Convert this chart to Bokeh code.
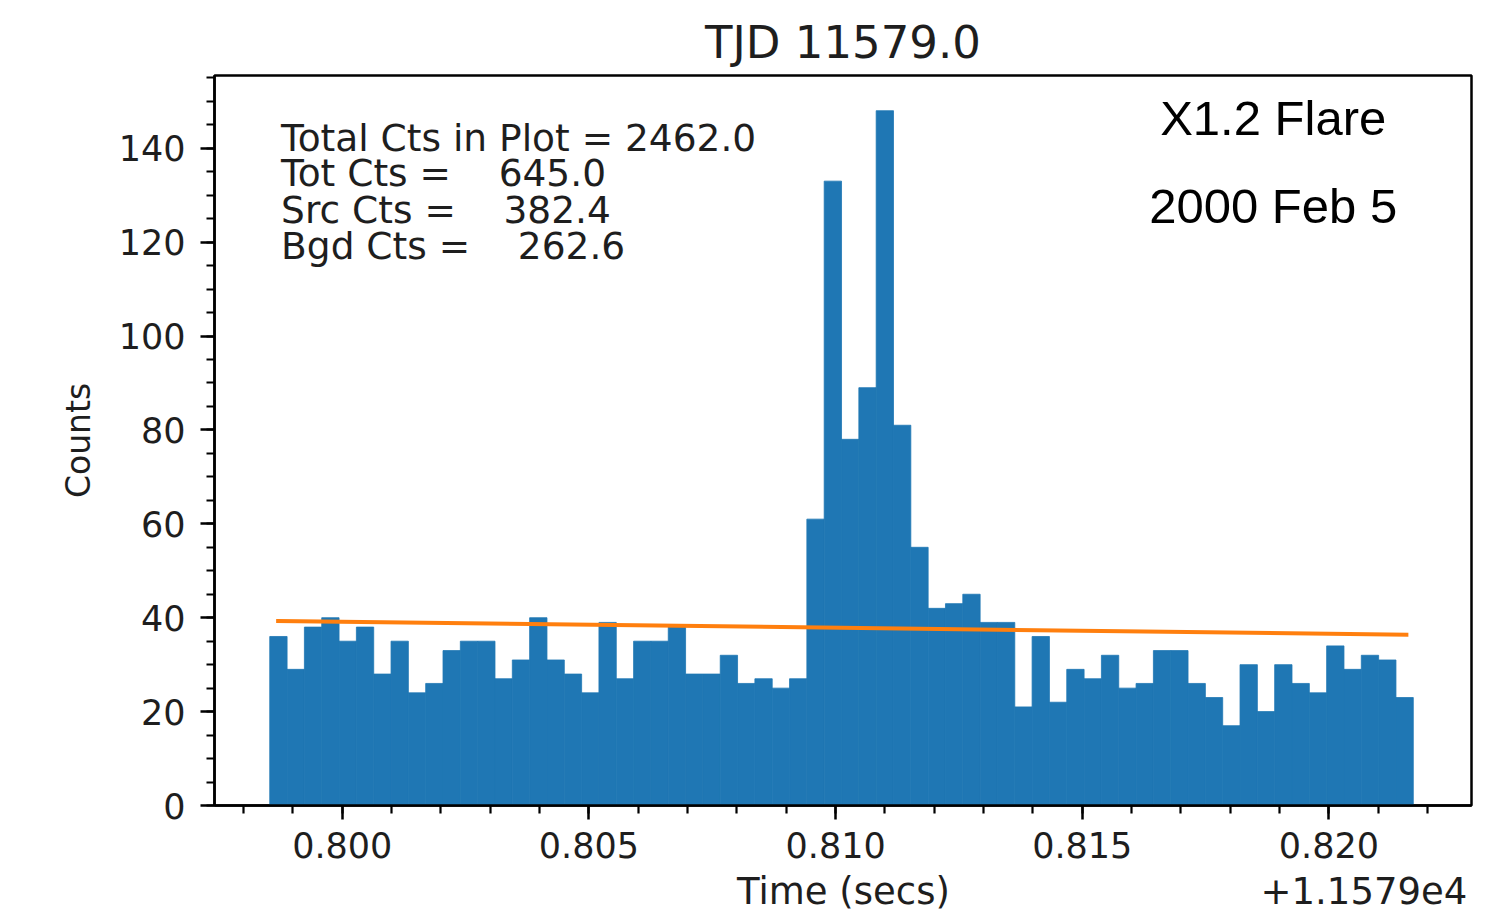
import numpy as np
from bokeh.plotting import figure
from bokeh.models import (ColumnDataSource, FixedTicker, CustomJSTickFormatter,
                          Label, Range1d, LinearAxis)
from bokeh.embed import file_html
from bokeh.resources import INLINE

# ---------------- data ----------------
bin_first_edge = 11579.79853
bin_last_edge = 11579.82171
counts = [36, 29, 38, 40, 35, 38, 28, 35, 24, 26, 33, 35, 35, 27, 31, 40,
          31, 28, 24, 39, 27, 35, 35, 38, 28, 28, 32, 26, 27, 25, 27,
          61, 133, 78, 89, 148, 81, 55, 42, 43, 45, 39, 39,
          21, 36, 22, 29, 27, 32, 25, 26, 33, 33, 26, 23, 17, 30, 20, 30,
          26, 24, 34, 29, 32, 31, 23]

bgd_x = [11579.79870, 11579.82157]
bgd_y = [39.3, 36.4]

x_major = [11579.800, 11579.805, 11579.810, 11579.815, 11579.820]
x_minor = [11579.798, 11579.799, 11579.800, 11579.801, 11579.802, 11579.803,
           11579.804, 11579.805, 11579.806, 11579.807, 11579.808, 11579.809,
           11579.810, 11579.811, 11579.812, 11579.813, 11579.814, 11579.815,
           11579.816, 11579.817, 11579.818, 11579.819, 11579.820, 11579.821,
           11579.822]
y_major = [0, 20, 40, 60, 80, 100, 120, 140]
y_minor = list(range(0, 156, 5))

title_text = "TJD 11579.0"
stats_lines = ["Total Cts in Plot = 2462.0",
               "Tot Cts =\u00a0\u00a0\u00a0\u00a0645.0",
               "Src Cts =\u00a0\u00a0\u00a0\u00a0382.4",
               "Bgd Cts =\u00a0\u00a0\u00a0\u00a0262.6"]
event_lines = ["X1.2 Flare", "2000 Feb 5"]
bottom_texts = ["Time (secs)", "+1.1579e4"]

# ---------------- layout constants ----------------
bottom_text_x = [11579.81016, 11579.82071]
stat_x, stat_y = 11579.79876, [142.2, 134.7, 126.8, 119.1]
ev_x, ev_y = 11579.81887, [146.5, 127.6]

# ---------------- build ----------------
edges = np.linspace(bin_first_edge, bin_last_edge, len(counts) + 1)
src = ColumnDataSource(dict(left=edges[:-1], right=edges[1:],
                            top=counts, bottom=[0] * len(counts)))

BLUE = "#1f77b4"
ORANGE = "#ff7f0e"
TXT = "#1e1e1e"
MPL_FONT = "DejaVu Sans"

p = figure(width=1492, height=915, output_backend="svg", toolbar_location=None,
           x_range=Range1d(11579.79741, 11579.82289), y_range=Range1d(0, 155.5),
           min_border_left=214, min_border_right=21, min_border_top=75,
           min_border_bottom=110)

p.quad(left="left", right="right", top="top", bottom="bottom", source=src,
       fill_color=BLUE, line_color=BLUE, line_width=0.8)
p.line(bgd_x, bgd_y, line_color=ORANGE, line_width=4, line_cap="square")

p.xgrid.visible = False
p.ygrid.visible = False
p.background_fill_color = "white"
p.border_fill_color = "white"
p.outline_line_color = "black"
p.outline_line_width = 2.5
p.outline_line_alpha = 1.0

p.xaxis.ticker = FixedTicker(ticks=x_major, minor_ticks=x_minor)
p.xaxis.formatter = CustomJSTickFormatter(
    code="return (tick - 11579).toFixed(3);")
p.yaxis.ticker = FixedTicker(ticks=y_major, minor_ticks=y_minor)

for ax in (p.xaxis[0], p.yaxis[0]):
    ax.axis_line_color = "black"
    ax.axis_line_width = 2.5
    ax.major_tick_line_color = "black"
    ax.major_tick_line_width = 2.5
    ax.minor_tick_line_color = "black"
    ax.minor_tick_line_width = 2.2
    ax.major_tick_in = 0
    ax.major_tick_out = 14
    ax.minor_tick_in = 0
    ax.minor_tick_out = 8
    ax.major_label_text_font = MPL_FONT
    ax.major_label_text_font_size = "35px"
    ax.major_label_text_color = TXT
    ax.axis_label_text_font = MPL_FONT
    ax.axis_label_text_font_size = "33px"
    ax.axis_label_text_font_style = "normal"
    ax.axis_label_text_color = TXT

p.yaxis.axis_label = "Counts"
p.xaxis.major_label_standoff = 12
p.yaxis.major_label_standoff = 15
p.yaxis.axis_label_standoff = 18

# second row below the x axis: axis label and offset text on one line
lab_ax = LinearAxis(
    ticker=FixedTicker(ticks=bottom_text_x, minor_ticks=[]),
    formatter=CustomJSTickFormatter(args=dict(labels=bottom_texts),
                                    code="return labels[index];"))
lab_ax.axis_line_color = None
lab_ax.major_tick_line_color = None
lab_ax.minor_tick_line_color = None
lab_ax.major_tick_in = 0
lab_ax.major_tick_out = 0
lab_ax.minor_tick_in = 0
lab_ax.minor_tick_out = 0
lab_ax.major_label_standoff = 9
lab_ax.major_label_text_font = MPL_FONT
lab_ax.major_label_text_font_size = "37px"
lab_ax.major_label_text_color = TXT
p.add_layout(lab_ax, "below")

p.title.text = title_text
p.title.align = "center"
p.title.text_font = MPL_FONT
p.title.text_font_size = "45px"
p.title.text_font_style = "normal"
p.title.text_color = TXT
p.title.standoff = 14

# stats block (upper left)
for txt, yy in zip(stats_lines, stat_y):
    p.add_layout(Label(x=stat_x, y=yy, text=txt, text_font=MPL_FONT,
                       text_font_size="37.5px", text_color=TXT,
                       text_baseline="alphabetic", text_align="left"))

# event annotation (upper right)
for txt, yy in zip(event_lines, ev_y):
    p.add_layout(Label(x=ev_x, y=yy, text=txt,
                       text_font="Liberation Sans", text_font_size="49px",
                       text_color="black", text_baseline="alphabetic",
                       text_align="center"))

open("out.html", "w").write(file_html(p, INLINE))
